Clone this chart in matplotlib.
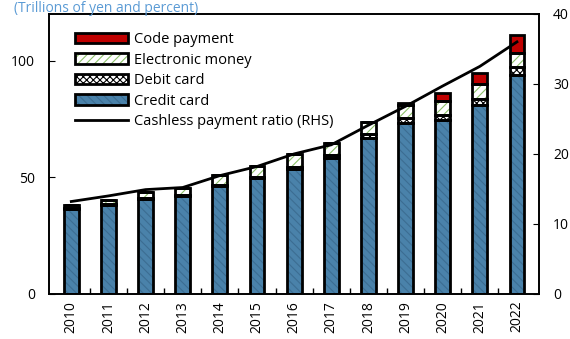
import matplotlib
matplotlib.use("Agg")
import matplotlib.pyplot as plt
import numpy as np
from matplotlib.patches import Patch
from matplotlib.lines import Line2D

plt.rcParams['font.family'] = ['Open Sans', 'DejaVu Sans']
plt.rcParams['hatch.linewidth'] = 0.8

years = ["2010", "2011", "2012", "2013", "2014", "2015", "2016",
         "2017", "2018", "2019", "2020", "2021", "2022"]
credit_card = [36.3, 38.0, 40.6, 41.8, 46.2, 49.6, 53.6, 58.4, 66.7, 73.3, 74.4, 80.9, 93.7]
debit_card = [0.5, 0.5, 0.6, 0.6, 0.6, 0.7, 0.9, 1.2, 1.8, 1.9, 2.2, 2.8, 3.4]
electronic_money = [1.5, 1.7, 2.3, 3.0, 4.1, 4.4, 5.3, 5.1, 5.1, 5.7, 6.1, 6.4, 6.0]
code_payment = [0.0, 0.0, 0.0, 0.0, 0.0, 0.0, 0.0, 0.0, 0.2, 1.0, 3.2, 4.7, 8.0]
cashless_ratio = [13.2, 14.0, 14.9, 15.2, 16.9, 18.2, 20.0, 21.3, 24.1, 26.8, 29.7, 32.5, 36.0]

left_ticks = [0, 50, 100]
right_ticks = [0, 10, 20, 30, 40]

blue = "#4a82aa"
blue_hatch = "#3c6d92"
green_hatch = "#8cc06a"
red = "#c00000"

fig = plt.figure(figsize=(5.70, 3.39), dpi=100)
ax = fig.add_axes([0.086, 0.133, 0.860, 0.826])
ax2 = ax.twinx()

x = np.arange(len(years))
w = 0.4


def layer(vals, bottom, face, hatch=None, hcolor=None):
    vals = np.asarray(vals)
    # hatched fill in its own colour, then a black outline on top
    ax.bar(x, vals, w, bottom=bottom, color=face, hatch=hatch,
           edgecolor=hcolor if hatch else face, linewidth=0, zorder=2)
    ax.bar(x, vals, w, bottom=bottom, facecolor="none", edgecolor="black",
           linewidth=2.0, zorder=3)
    return bottom + vals


b = np.zeros(len(years))
b = layer(credit_card, b, blue, "\\\\\\\\", blue_hatch)
b = layer(debit_card, b, "white", "xxxxx", "black")
b = layer(electronic_money, b, "white", "////", green_hatch)
b = layer(code_payment, b, red)

ax2.plot(x, cashless_ratio, color="black", linewidth=2, zorder=4)

ax.set_xlim(-0.6, len(years) - 0.4)
ax.set_ylim(0, 120)
ax2.set_ylim(0, 40)
ax.set_yticks(left_ticks)
ax2.set_yticks(right_ticks)
ax.set_xticks(x)
ax.set_xticklabels(years, rotation=90)
ax.set_xticks(x[:-1] + 0.5, minor=True)
ax.tick_params(axis="x", which="major", length=0, pad=5, labelsize=10)
ax.tick_params(axis="x", which="minor", direction="in", length=4, width=1)
ax.tick_params(axis="y", direction="in", length=4, labelsize=10, pad=10)
ax2.tick_params(axis="y", direction="in", length=4, labelsize=10, pad=10)

for a in (ax, ax2):
    for s in a.spines.values():
        s.set_linewidth(1.2)
ax.set_zorder(0)
ax2.set_zorder(1)
ax2.patch.set_visible(False)


def swatch(face, hatch=None, hcolor=None):
    fill = Patch(facecolor=face, edgecolor=hcolor if hatch else face,
                 hatch=hatch, linewidth=0)
    outline = Patch(facecolor="none", edgecolor="black", linewidth=2.0)
    return (fill, outline)


handles = [
    swatch(red),
    swatch("white", "////", green_hatch),
    swatch("white", "xxxxx", "black"),
    swatch(blue, "\\\\\\\\", blue_hatch),
    Line2D([], [], color="black", linewidth=2),
]
labels = ["Code payment", "Electronic money", "Debit card", "Credit card",
          "Cashless payment ratio (RHS)"]
ax2.legend(handles, labels, loc="upper left", bbox_to_anchor=(0.052, 0.935),
           frameon=False, fontsize=10.5, handlelength=3.7, handleheight=0.75,
           labelspacing=0.38, handletextpad=0.35, borderaxespad=0, borderpad=0)

fig.text(0.025, 1 - 11.5 / 339, "(Trillions of yen and percent)", color="#5b9bd5",
         fontsize=10, va="baseline", ha="left")

fig.savefig("out.png", dpi=100)
